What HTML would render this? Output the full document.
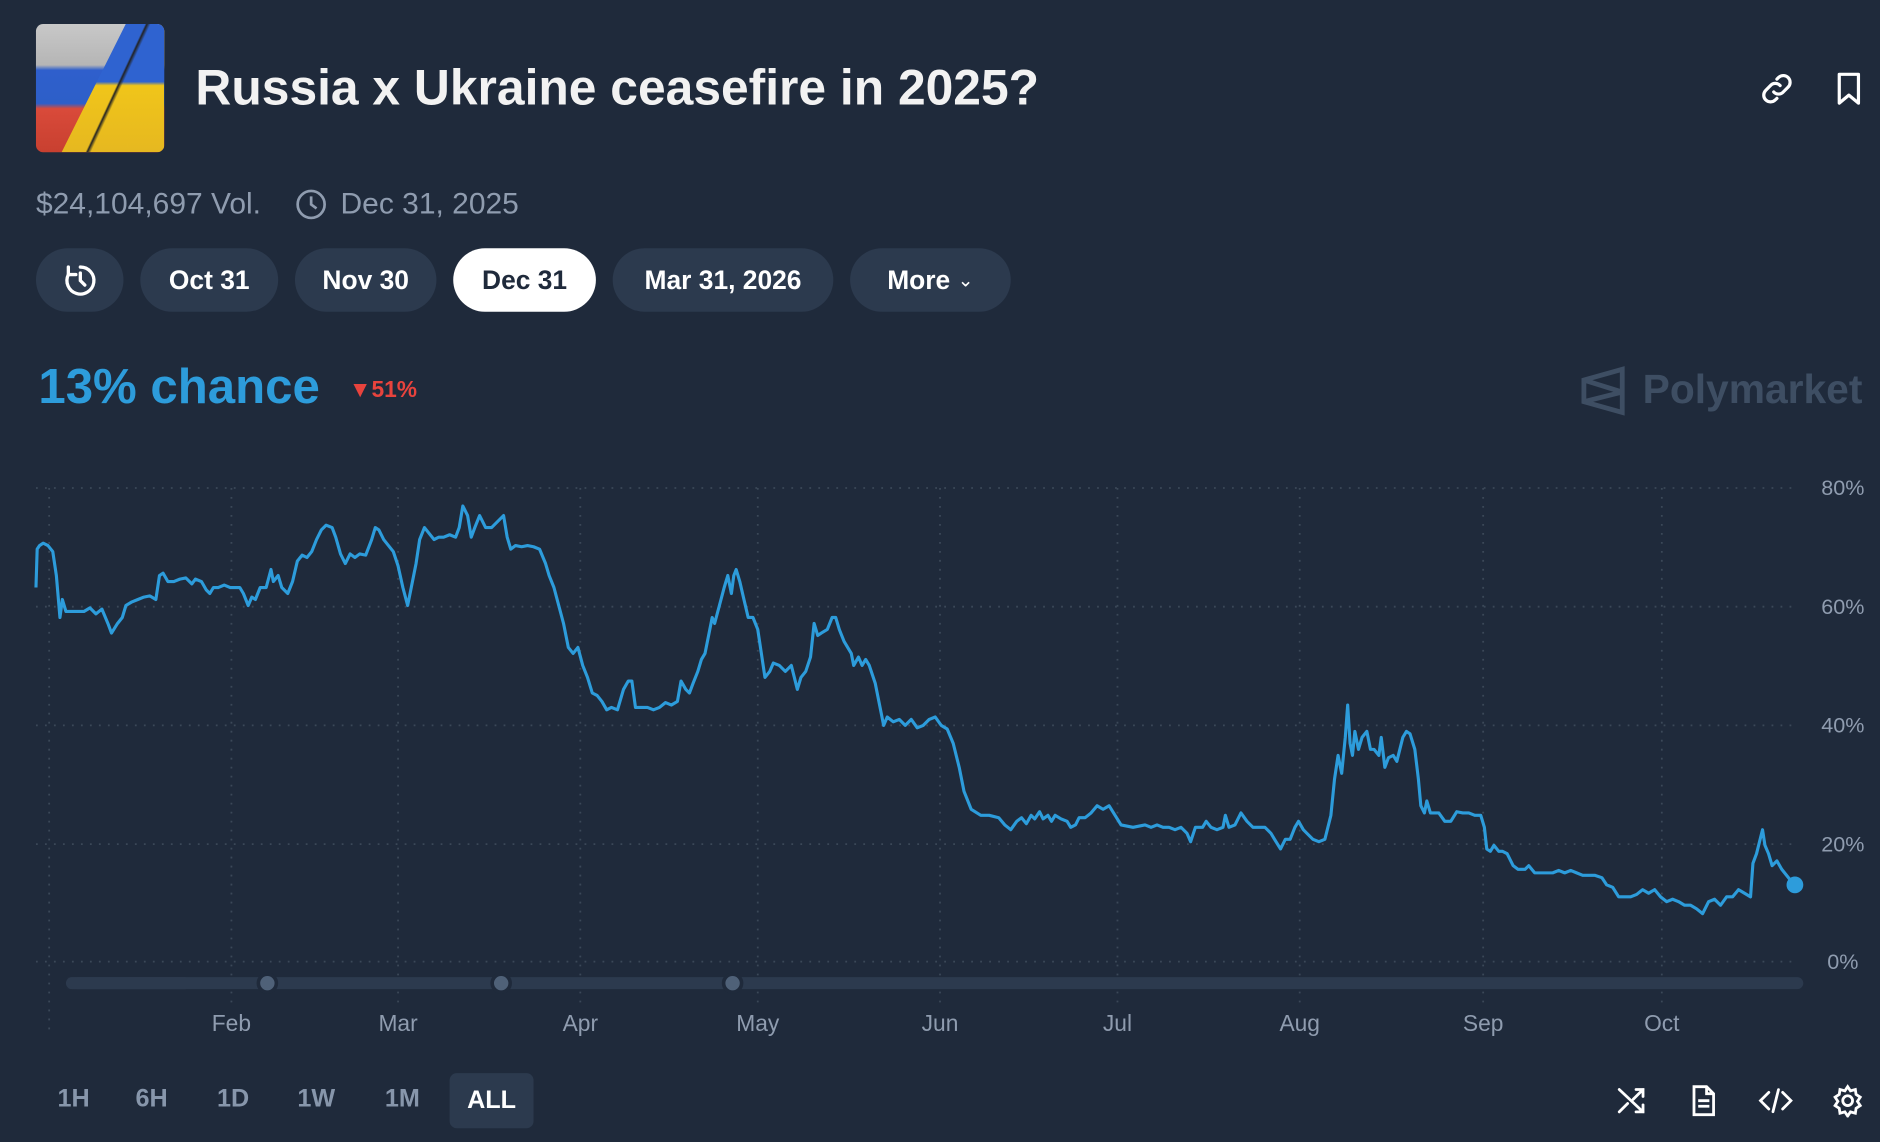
<!DOCTYPE html>
<html><head><meta charset="utf-8"><style>
html,body{margin:0;padding:0;background:#1f2a3b;overflow:hidden;width:1880px;height:1142px}
#w{position:absolute;left:0;top:0;width:1568px;height:952px;transform:scale(1.199);transform-origin:0 0;font-family:"Liberation Sans",sans-serif;color:#fff}
.a{position:absolute;white-space:nowrap}
.pill{position:absolute;top:207px;height:53px;border-radius:27px;background:#2c3a4e;color:#fff;font-size:22px;font-weight:bold;display:flex;align-items:center;justify-content:center}
.t{position:absolute;top:905px;font-size:21px;font-weight:bold;color:#8796ab}
</style></head><body><div id="w">
<div class="a" style="left:30px;top:20px;width:107px;height:107px;border-radius:6px;overflow:hidden;background:linear-gradient(180deg,#c8c8c8 0,#b5b5b5 32%,#2f5fcc 36%,#2d5fc8 62%,#d94a3a 66%,#c84030 100%)">
<div style="position:absolute;left:0;top:0;width:100%;height:100%;background:linear-gradient(180deg,#2f63d0 0,#2f63d0 45%,#f0c51a 48%,#e6b820 100%);clip-path:polygon(70% 0,100% 0,100% 100%,20% 100%)"></div>
<div style="position:absolute;left:0;top:0;width:100%;height:100%;background:linear-gradient(115deg,transparent 58%,#222 59%,transparent 61%)"></div></div>
<div class="a" style="left:163px;top:49px;font-size:41.5px;font-weight:bold;color:#f2f2f2">Russia x Ukraine ceasefire in 2025?</div>
<svg class="a" style="left:1466px;top:58px" width="32" height="32" viewBox="0 0 24 24" fill="none" stroke="#fff" stroke-width="2" stroke-linecap="round"><path d="M10 14a4 4 0 0 0 6 0l3-3a4 4 0 0 0-6-6l-1 1"/><path d="M14 10a4 4 0 0 0-6 0l-3 3a4 4 0 0 0 6 6l1-1"/></svg>
<svg class="a" style="left:1528px;top:58px" width="28" height="32" viewBox="0 0 20 24" fill="none" stroke="#fff" stroke-width="2" stroke-linejoin="round"><path d="M4 3h12v18l-6-5-6 5z"/></svg>
<div class="a" style="left:30px;top:156px;font-size:25px;color:#8f9caf">$24,104,697 Vol.</div>
<svg class="a" style="left:246px;top:157px" width="27" height="27" viewBox="0 0 24 24" fill="none" stroke="#8f9caf" stroke-width="2"><circle cx="12" cy="12" r="10"/><path d="M12 6v6l4 3"/></svg>
<div class="a" style="left:284px;top:156px;font-size:25px;color:#8f9caf">Dec 31, 2025</div>
<div class="pill" style="left:30px;width:73px"><svg width="30" height="30" viewBox="0 0 24 24" fill="none" stroke="#fff" stroke-width="2.2" stroke-linecap="round"><path d="M12 3a9 9 0 1 1-8 5"/><path d="M12 7v5l3 3"/><path d="M4 3v5h5"/></svg></div>
<div class="pill" style="left:117px;width:115px">Oct 31</div>
<div class="pill" style="left:246px;width:118px">Nov 30</div>
<div class="pill" style="left:378px;width:119px;background:#fff;color:#1f2a3b">Dec 31</div>
<div class="pill" style="left:511px;width:184px">Mar 31, 2026</div>
<div class="pill" style="left:709px;width:134px">More&nbsp;<span style="font-size:16px;font-weight:normal">&#8964;</span></div>
<div class="a" style="left:32px;top:299px;font-size:41px;font-weight:bold;color:#2d9cdb">13% chance</div>
<div class="a" style="left:291px;top:315px;font-size:19px;font-weight:bold;color:#e8433d">▼51%</div>
<svg class="a" style="left:1318px;top:305px" width="40" height="42" viewBox="0 0 40 42" fill="none" stroke="#3e4e63" stroke-width="4"><path d="M3 12L35 3v36L3 30z M3 12l32 10 M3 30l32-8"/></svg>
<div class="a" style="left:1370px;top:306px;font-size:34px;font-weight:bold;color:#3e4e63">Polymarket</div>
<svg class="a" style="left:0;top:0" width="1568" height="952">
<g stroke="#3b4858" stroke-width="1.5" stroke-dasharray="1.5 6">
<line x1="30" y1="407" x2="1500" y2="407"/><line x1="30" y1="506" x2="1500" y2="506"/><line x1="30" y1="605" x2="1500" y2="605"/><line x1="30" y1="704" x2="1500" y2="704"/><line x1="30" y1="802" x2="1500" y2="802"/>
<line x1="41" y1="407" x2="41" y2="860"/><line x1="193" y1="407" x2="193" y2="840"/><line x1="332" y1="407" x2="332" y2="840"/><line x1="484" y1="407" x2="484" y2="840"/><line x1="632" y1="407" x2="632" y2="840"/><line x1="784" y1="407" x2="784" y2="840"/><line x1="932" y1="407" x2="932" y2="840"/><line x1="1084" y1="407" x2="1084" y2="840"/><line x1="1237" y1="407" x2="1237" y2="840"/><line x1="1386" y1="407" x2="1386" y2="840"/>
</g>
<defs><linearGradient id="g" x1="0" x2="1"><stop offset="0" stop-color="#2c3a4e" stop-opacity="0"/><stop offset="0.1" stop-color="#2c3a4e"/></linearGradient></defs>
<rect x="55" y="815" width="1449" height="10" rx="5" fill="#2c3a4e"/>
<rect x="55" y="815" width="100" height="10" fill="url(#g)"/>
<g fill="#4f6178" stroke="#1f2a3b" stroke-width="3"><circle cx="223" cy="820" r="7.5"/><circle cx="418" cy="820" r="7.5"/><circle cx="611" cy="820" r="7.5"/></g>
<g font-family="Liberation Sans,sans-serif" font-size="18" fill="#8f9caf" text-anchor="end"><text x="1555" y="413">80%</text><text x="1555" y="512">60%</text><text x="1555" y="611">40%</text><text x="1555" y="710">20%</text><text x="1550" y="808">0%</text></g>
<g font-family="Liberation Sans,sans-serif" font-size="19" fill="#8f9caf" text-anchor="middle"><text x="193" y="860">Feb</text><text x="332" y="860">Mar</text><text x="484" y="860">Apr</text><text x="632" y="860">May</text><text x="784" y="860">Jun</text><text x="932" y="860">Jul</text><text x="1084" y="860">Aug</text><text x="1237" y="860">Sep</text><text x="1386" y="860">Oct</text></g>
<polyline fill="none" stroke="#2d9cdb" stroke-width="2.6" stroke-linejoin="round" points="30,490 31,458 33,455 36,453 40,455 44,460 47,480 50,515 52,500 55,510 60,510 70,510 75,507 80,512 85,508 90,520 93,528 98,520 102,515 105,505 110,502 115,500 120,498 125,497 130,500 133,480 136,478 140,485 145,485 150,483 155,482 160,487 163,483 168,485 172,492 175,495 178,490 182,490 187,488 192,490 197,490 200,490 203,495 207,505 210,498 213,500 217,490 222,490 226,475 228,485 232,480 235,490 240,495 244,485 248,468 252,463 256,465 260,460 264,450 268,442 272,438 277,440 280,448 284,462 288,470 292,462 296,465 300,462 305,463 310,450 313,440 316,442 320,450 324,455 328,460 332,472 336,490 340,505 343,490 347,470 350,450 354,440 358,445 362,450 366,448 370,448 375,446 380,448 383,440 386,422 390,430 393,448 396,440 400,430 405,440 410,440 415,435 420,430 423,448 426,458 430,455 435,456 440,455 445,456 450,458 455,470 458,480 462,490 466,505 470,520 474,540 478,545 482,540 486,555 490,565 494,578 498,580 502,585 506,592 510,590 515,592 520,575 524,568 527,568 530,590 535,590 540,590 545,592 550,590 555,586 560,588 565,585 568,568 572,575 575,578 578,570 582,560 585,550 588,545 592,525 594,515 596,520 600,505 604,490 607,480 610,495 612,480 614,475 617,485 620,498 624,515 628,515 632,525 635,545 638,565 642,560 645,553 650,555 655,560 660,555 665,575 668,565 672,560 676,548 679,520 682,530 685,528 690,525 694,515 697,515 700,525 704,535 710,545 712,555 716,548 719,555 722,550 725,555 730,570 734,590 737,605 740,598 745,602 750,600 755,605 760,600 765,607 770,605 775,600 780,598 785,605 790,608 795,620 800,640 804,660 810,675 818,680 825,680 833,682 838,688 843,692 848,685 852,682 856,687 860,680 863,683 867,677 870,683 874,680 877,685 880,680 885,683 890,685 893,690 897,688 900,682 905,682 910,678 915,672 920,675 925,672 930,680 935,688 945,690 955,688 960,690 965,688 970,690 975,690 980,692 985,690 990,695 993,702 997,690 1000,690 1003,690 1006,685 1010,690 1015,692 1020,690 1022,680 1025,690 1030,688 1035,678 1040,685 1045,690 1050,690 1055,690 1060,695 1063,700 1068,708 1072,700 1076,700 1080,690 1083,685 1087,692 1090,695 1095,700 1100,702 1105,700 1110,680 1113,650 1116,630 1119,645 1122,615 1124,588 1126,620 1128,630 1130,610 1133,625 1136,615 1140,610 1143,625 1146,625 1150,630 1152,615 1155,640 1158,632 1162,630 1165,635 1170,615 1173,610 1176,612 1180,625 1183,650 1185,672 1188,678 1190,668 1193,678 1200,678 1205,685 1210,685 1215,677 1220,678 1225,678 1230,680 1235,680 1238,690 1240,708 1243,710 1246,705 1250,710 1253,710 1257,712 1262,722 1266,725 1270,725 1272,725 1275,722 1280,728 1285,728 1290,728 1295,728 1300,726 1305,728 1310,726 1315,728 1320,730 1330,730 1336,732 1340,738 1345,740 1350,748 1360,748 1365,746 1370,742 1375,745 1380,742 1385,748 1390,752 1395,750 1400,752 1405,755 1410,755 1415,758 1420,762 1425,752 1430,750 1435,755 1440,748 1445,748 1450,742 1455,745 1460,748 1462,720 1465,712 1468,700 1470,692 1472,705 1475,712 1478,722 1482,718 1486,725 1490,730 1494,735 1497,738"/>
<circle cx="1497" cy="738" r="7" fill="#2d9cdb"/>
</svg>
<div class="t" style="left:48px">1H</div><div class="t" style="left:113px">6H</div><div class="t" style="left:181px">1D</div><div class="t" style="left:248px">1W</div><div class="t" style="left:321px">1M</div>
<div class="a" style="left:375px;top:895px;width:70px;height:46px;border-radius:6px;background:#2c3a4e;color:#fff;font-size:21px;font-weight:bold;display:flex;align-items:center;justify-content:center">ALL</div>
<svg class="a" style="left:1347px;top:904px" width="28" height="28" viewBox="0 0 24 24" fill="none" stroke="#fff" stroke-width="2" stroke-linecap="round"><path d="M3 4l17 16M15 20h5v-5M20 4l-7 7M15 4h5v5M3 20l6-6"/></svg>
<svg class="a" style="left:1408px;top:904px" width="26" height="28" viewBox="0 0 22 24" fill="none" stroke="#fff" stroke-width="2"><path d="M4 2h9l5 5v15H4z M13 2v5h5 M7 12h8 M7 16h8"/></svg>
<svg class="a" style="left:1466px;top:904px" width="30" height="28" viewBox="0 0 26 24" fill="none" stroke="#fff" stroke-width="2" stroke-linecap="round"><path d="M8 6l-6 6 6 6M18 6l6 6-6 6M15 4l-4 16"/></svg>
<svg class="a" style="left:1527px;top:904px" width="28" height="28" viewBox="0 0 24 24" fill="none" stroke="#fff" stroke-width="2"><circle cx="12" cy="12" r="3.5"/><path d="M12 2l2 3 3.5-1 .5 3.5 3 2-2 3 2 3-3 2-.5 3.5-3.5-1-2 3-2-3-3.5 1-.5-3.5-3-2 2-3-2-3 3-2 .5-3.5 3.5 1z"/></svg>
</div></body></html>
